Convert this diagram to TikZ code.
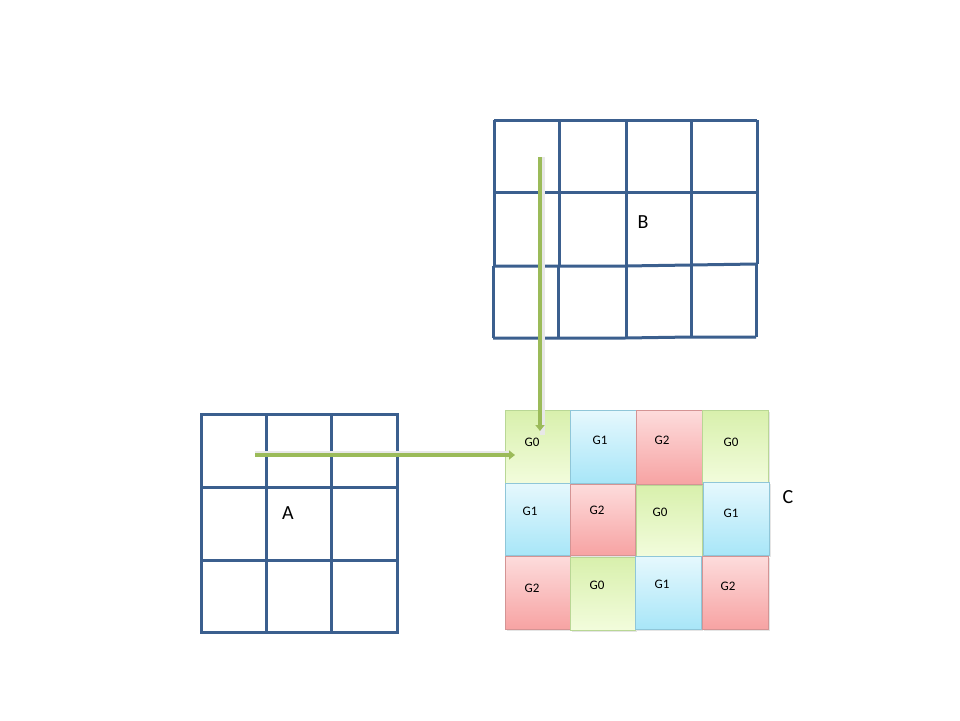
\documentclass[tikz,border=0pt]{standalone}
\usepackage{fontspec}
\setmainfont{Carlito}
\usetikzlibrary{arrows.meta}
\definecolor{gridblue}{HTML}{3B5F8E}
\definecolor{arrowgreen}{HTML}{9BBB59}
\definecolor{gtop}{HTML}{D8F0AC}
\definecolor{gbot}{HTML}{F2FCDC}
\definecolor{gbd}{HTML}{B9D795}
\definecolor{btop}{HTML}{E6F8FD}
\definecolor{bbot}{HTML}{A8E6F8}
\definecolor{bbd}{HTML}{8FC6D8}
\definecolor{rtop}{HTML}{FDDCDC}
\definecolor{rbot}{HTML}{F7A3A3}
\definecolor{rbd}{HTML}{D49494}
\tikzset{
  gridline/.style={draw=gridblue, line width=3pt},
  cellG/.style={top color=gtop, bottom color=gbot, draw=gbd, line width=0.6pt},
  cellB/.style={top color=btop, bottom color=bbot, draw=bbd, line width=0.6pt},
  cellR/.style={top color=rtop, bottom color=rbot, draw=rbd, line width=0.6pt},
  glabel/.style={font=\fontsize{13}{15}\selectfont, text=black},
  biglabel/.style={font=\fontsize{20}{24}\selectfont, text=black},
  conn/.style={draw=arrowgreen, line width=4pt, -{Triangle[length=6pt,width=9pt]}},
  shadowline/.style={draw=black!9, line width=5pt},
}
\newcommand{\ccell}[6]{% style, x1, y1, x2, y2, name
  \fill[black!10] (#2+2,#3+2) rectangle (#4+2,#5+2);
  \path[#1] (#2,#3) rectangle (#4,#5);
  \coordinate (#6) at ({(#2+#4)/2},{(#3+#5)/2});
}
\begin{document}
\begin{tikzpicture}[x=1pt,y=-1pt]
\useasboundingbox (0,0) rectangle (960,720);
\fill[white] (0,0) rectangle (960,720);

% Grid A
\draw[gridline] (201,414) rectangle (397,632);
\draw[gridline] (266,414) -- (266,632);
\draw[gridline] (331,414) -- (331,632);
\draw[gridline] (201,487) -- (397,487);
\draw[gridline] (201,560) -- (397,560);
\node[biglabel] (A) at (288,513) {A};

% Grid B
\draw[gridline] (494,120) -- (757,120);
\draw[gridline] (494,192) -- (757,192);
\draw[gridline] (493,266) -- (625,266) -- (691,265) -- (756,264);
\draw[gridline] (493,338) -- (625,338) -- (691,337) -- (756,337);
\draw[gridline] (494,120) -- (494,266);
\draw[gridline] (493,266) -- (493,338);
\draw[gridline] (559,120) -- (559,266);
\draw[gridline] (558,266) -- (558,338);
\draw[gridline] (626,120) -- (626,338);
\draw[gridline] (691,120) -- (691,337);
\draw[gridline] (757,120) -- (757,264);
\draw[gridline] (756,264) -- (756,337);
\node[biglabel] (B) at (643,222) {B};

% Grid C
\ccell{cellG}{505}{410}{570}{483}{c11}
\ccell{cellB}{570}{410}{636}{483}{c12}
\ccell{cellR}{636}{410}{702}{484}{c13}
\ccell{cellG}{702}{410}{768}{483}{c14}
\ccell{cellB}{505}{483}{570}{555}{c21}
\ccell{cellR}{570}{484}{635}{555}{c22}
\ccell{cellG}{636}{485}{702}{556}{c23}
\ccell{cellB}{703}{482}{769}{555}{c24}
\ccell{cellR}{505}{556}{570}{629}{c31}
\ccell{cellG}{570}{557}{635}{630}{c32}
\ccell{cellB}{635}{556}{701}{629}{c33}
\ccell{cellR}{702}{556}{768}{629}{c34}

\node[glabel] (l11) at (532,442) {G0};
\node[glabel] (l12) at (600,440) {G1};
\node[glabel] (l13) at (662,440) {G2};
\node[glabel] (l14) at (731,442) {G0};
\node[glabel] (l21) at (530,511) {G1};
\node[glabel] (l22) at (597,510) {G2};
\node[glabel] (l23) at (660,512) {G0};
\node[glabel] (l24) at (731,513) {G1};
\node[glabel] (l31) at (532,588) {G2};
\node[glabel] (l32) at (597,585) {G0};
\node[glabel] (l33) at (662,584) {G1};
\node[glabel] (l34) at (728,586) {G2};
\node[biglabel] (C) at (788,497) {C};

% connectors
\coordinate (aStart) at (255,455);
\coordinate (aEnd) at (515,455);
\coordinate (bStart) at (540,157);
\coordinate (bEnd) at (540,431);
\draw[shadowline] ([yshift=2pt]aStart) -- ([yshift=2pt,xshift=-4pt]aEnd);
\draw[shadowline] ([xshift=2pt]bStart) -- ([xshift=2pt,yshift=-4pt]bEnd);
\draw[conn] (aStart) -- (aEnd);
\draw[conn] (bStart) -- (bEnd);
\end{tikzpicture}
\end{document}
